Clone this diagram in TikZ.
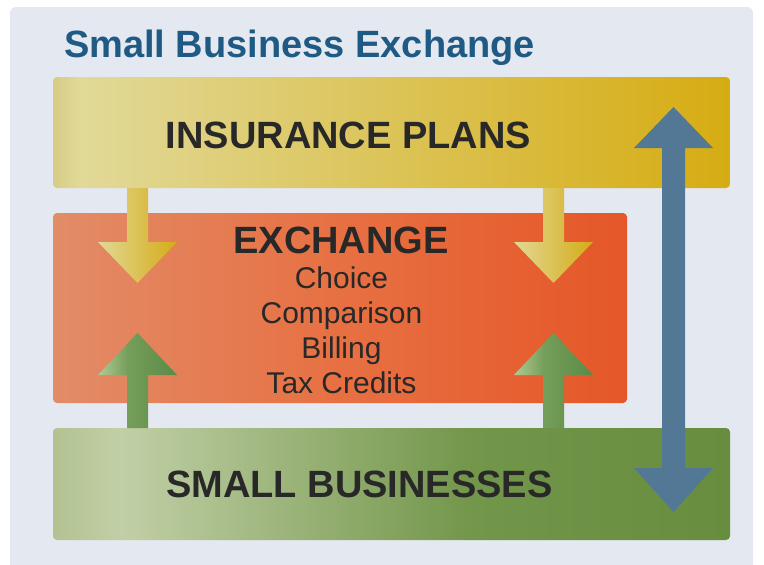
\documentclass[tikz,border=0pt]{standalone}
\usepackage{fontspec}
\setmainfont{Liberation Sans}
\definecolor{panel}{RGB}{228,232,240}
\definecolor{titleblue}{RGB}{31,90,132}
\definecolor{textdark}{RGB}{40,40,40}
\definecolor{insA}{RGB}{214,204,135}
\definecolor{insB}{RGB}{225,217,152}
\definecolor{insC}{RGB}{214,172,18}
\definecolor{exA}{RGB}{226,140,104}
\definecolor{exB}{RGB}{231,112,66}
\definecolor{exC}{RGB}{229,87,40}
\definecolor{sbA}{RGB}{178,194,145}
\definecolor{sbB}{RGB}{193,207,166}
\definecolor{sbC}{RGB}{114,150,74}
\definecolor{sbD}{RGB}{104,141,62}
\definecolor{yarrA}{RGB}{226,216,150}
\definecolor{yarrB}{RGB}{213,172,22}
\definecolor{garrA}{RGB}{178,202,148}
\definecolor{garrM}{RGB}{116,158,90}
\definecolor{garrB}{RGB}{92,138,70}
\definecolor{bluearr}{RGB}{82,120,150}
\pgfdeclarehorizontalshading{insshade}{100bp}{color(0bp)=(insA); color(25bp)=(insA); color(27bp)=(insB); color(75bp)=(insC); color(100bp)=(insC)}
\pgfdeclarehorizontalshading{exshade}{100bp}{color(0bp)=(exA); color(25bp)=(exA); color(50bp)=(exB); color(75bp)=(exC); color(100bp)=(exC)}
\pgfdeclarehorizontalshading{sbshade}{100bp}{color(0bp)=(sbA); color(25bp)=(sbA); color(30bp)=(sbB); color(56bp)=(sbC); color(75bp)=(sbD); color(100bp)=(sbD)}
\pgfdeclarehorizontalshading{garrshade}{100bp}{color(0bp)=(garrA); color(25bp)=(garrA); color(44bp)=(garrM); color(75bp)=(garrB); color(100bp)=(garrB)}
\tikzset{
  barbox/.style={rectangle, rounded corners=4pt, inner sep=0pt, outer sep=0pt, anchor=north west},
  bigtext/.style={anchor=base, inner sep=0pt, text=textdark, font=\fontsize{38pt}{40pt}\selectfont\bfseries},
  listtext/.style={anchor=base, inner sep=0pt, text=textdark, font=\fontsize{30pt}{34pt}\selectfont},
  titletext/.style={anchor=base, inner sep=0pt, text=titleblue, font=\fontsize{38pt}{40pt}\selectfont\bfseries},
  yarrow/.style={left color=yarrA, right color=yarrB},
  garrow/.style={shading=garrshade},
  barrow/.style={fill=bluearr},
}
\begin{document}
\begin{tikzpicture}[x=1pt, y=-1pt]
\useasboundingbox (0,0) rectangle (764,565);
% panel
\fill[panel, rounded corners=6pt] (10,7) rectangle (753,580);
% bars
\node[barbox, shading=insshade, minimum width=677pt, minimum height=111pt] (ins) at (53,77) {};
\node[barbox, shading=sbshade, minimum width=677pt, minimum height=112pt] (sb) at (53,428) {};
\node[barbox, shading=exshade, minimum width=574pt, minimum height=190pt] (ex) at (53,213) {};
% yellow down arrows
\foreach \c in {137.5,553.5}{
  \shade[yarrow] (\c-10.5,188) -- (\c+10.5,188) -- (\c+10.5,242) -- (\c+39.5,242) -- (\c,283) -- (\c-39.5,242) -- (\c-10.5,242) -- cycle;
}
% green up arrows
\foreach \c in {137.5,553.5}{
  \shade[garrow] (\c-10.5,428) -- (\c+10.5,428) -- (\c+10.5,375) -- (\c+39.5,375) -- (\c,333) -- (\c-39.5,375) -- (\c-10.5,375) -- cycle;
}
% blue double arrow
\fill[barrow] (673.5,107) -- (713,148) -- (685,148) -- (685,468) -- (713,468) -- (673.5,512) -- (634,468) -- (662,468) -- (662,148) -- (634,148) -- cycle;
% texts
\node[titletext] (title) at (299.5,57) {Small Business Exchange};
\node[bigtext] (inst) at (348.5,148) {INSURANCE PLANS};
\node[bigtext] (sbt) at (359.5,497) {SMALL BUSINESSES};
\node[bigtext] (ext) at (341,253) {EXCHANGE};
\node[listtext] (l1) at (341.5,288) {Choice};
\node[listtext] (l2) at (341.5,323) {Comparison};
\node[listtext] (l3) at (341.5,358) {Billing};
\node[listtext] (l4) at (341.5,393) {Tax Credits};
\end{tikzpicture}
\end{document}
